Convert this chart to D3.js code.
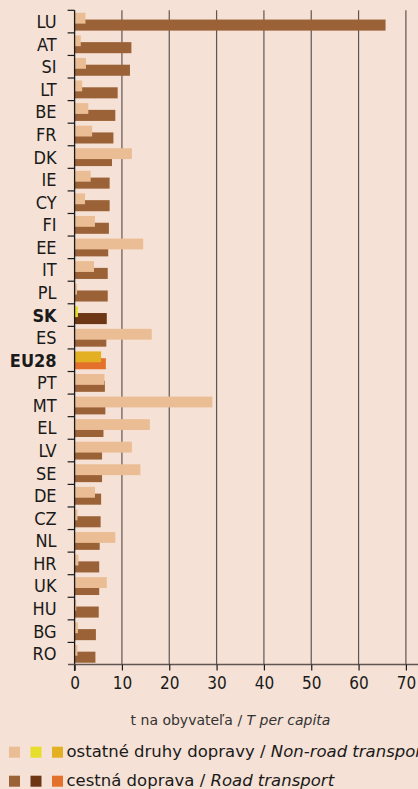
<!DOCTYPE html>
<html><head><meta charset="utf-8">
<script src="https://cdn.jsdelivr.net/npm/d3@7"></script>
<style>
html,body{margin:0;padding:0;background:#f5e1d5;}
svg{display:block;}
</style></head>
<body>
<svg id="c" width="418" height="789"></svg>
<script>
const categories = ["LU","AT","SI","LT","BE","FR","DK","IE","CY","FI","EE","IT","PL","SK","ES","EU28","PT","MT","EL","LV","SE","DE","CZ","NL","HR","UK","HU","BG","RO"];
const nonRoad = [2.3,1.3,2.4,1.6,2.9,3.7,12.1,3.4,2.2,4.3,14.5,4.1,0.5,0.7,16.3,5.6,6.3,29.1,15.9,12.1,13.9,4.3,0.6,8.6,0.8,6.8,0.35,0.7,0.6];
const road = [65.7,12.0,11.7,9.1,8.6,8.2,7.9,7.4,7.4,7.25,7.1,7.0,7.0,6.8,6.7,6.6,6.4,6.5,6.1,5.8,5.8,5.6,5.5,5.3,5.2,5.2,5.1,4.5,4.4];
const xTicks = [0,10,20,30,40,50,60,70];
const boldCats = ["SK","EU28"];
const axisTitle = ["t na obyvateľa / ", "T per capita"];
const legendRows = [
  {label:"ostatné druhy dopravy / ", italic:"Non-road transport", colors:["#ebbd94","#e7de2c","#e3b023"]},
  {label:"cestná doprava / ", italic:"Road transport", colors:["#9b6237","#6d3716","#e3712b"]}
];
const colNon = {def:"#ebbd94", SK:"#e7de2c", EU28:"#e3b023"};
const colRoad = {def:"#9b6237", SK:"#6d3716", EU28:"#e3712b"};

const COND = "'DejaVu Sans Condensed','DejaVu Sans',sans-serif";
const WIDE = "'DejaVu Sans',sans-serif";

const svg = d3.select("#c");
const x = d3.scaleLinear().domain([0,70]).range([74.6,405.9]);
const y = d3.scaleBand().domain(categories).range([10.3,665]).padding(0);
const bw = y.bandwidth();

// gridlines
svg.append("g").selectAll("line").data(xTicks.filter(d=>d>0)).join("line")
  .attr("x1",d=>x(d)).attr("x2",d=>x(d)).attr("y1",10.3).attr("y2",665)
  .attr("stroke","#5f5654").attr("stroke-width",1.2);

// road bars (below)
svg.append("g").selectAll("rect").data(categories).join("rect")
  .attr("x",x(0)).attr("y",d=>y(d)+bw*0.41).attr("height",bw*0.49)
  .attr("width",(d,i)=>x(road[i])-x(0))
  .attr("fill",d=>colRoad[d]||colRoad.def);
// non-road bars (on top)
svg.append("g").selectAll("rect").data(categories).join("rect")
  .attr("x",x(0)).attr("y",d=>y(d)+bw*0.11).attr("height",bw*0.48)
  .attr("width",(d,i)=>x(nonRoad[i])-x(0))
  .attr("fill",d=>colNon[d]||colNon.def);

// y axis
const ya = svg.append("g").attr("transform",`translate(${x(0)},0)`);
ya.append("line").attr("x1",0).attr("x2",0).attr("y1",10.3).attr("y2",671).attr("stroke","#1a1a1a").attr("stroke-width",1.3);
ya.selectAll("line.t").data(categories).join("line").attr("class","t")
  .attr("x1",-7).attr("x2",0).attr("y1",d=>y(d)).attr("y2",d=>y(d))
  .attr("stroke","#1a1a1a").attr("stroke-width",1.2);
ya.selectAll("text").data(categories).join("text")
  .attr("x",-18).attr("y",d=>y(d)+bw/2).attr("dy","0.36em")
  .attr("text-anchor","end")
  .style("font-family",COND).style("font-size","18px").style("fill","#1a1a1a")
  .style("font-weight",d=>boldCats.includes(d)?"bold":"normal")
  .text(d=>d);

// x axis
const xa = svg.append("g").attr("transform","translate(0,664.5)")
  .call(d3.axisBottom(x).tickValues(xTicks).tickSize(6).tickPadding(6).tickFormat(d3.format("d")));
xa.select(".domain").attr("d",`M68,0H418`).attr("stroke","#5f5654").attr("stroke-width",1.3);
xa.selectAll(".tick line").attr("stroke","#1a1a1a").attr("stroke-width",1.2);
xa.selectAll(".tick text").style("font-size","17px").style("fill","#1a1a1a").style("font-family",COND);

// axis title
const at = svg.append("text").attr("x",230.5).attr("y",725).attr("text-anchor","middle")
  .style("font-size","14px").style("font-family",WIDE).style("fill","#333");
at.append("tspan").text(axisTitle[0]);
at.append("tspan").style("font-style","italic").text(axisTitle[1]);

// legend
const lg = svg.append("g");
legendRows.forEach((r,i)=>{
  const yy = 746.7 + i*29;
  r.colors.forEach((c,j)=>{
    lg.append("rect").attr("x",9+j*21.5).attr("y",yy).attr("width",11).attr("height",11).attr("fill",c);
  });
  const t = lg.append("text").attr("x",66.5).attr("y",yy+10.5)
    .style("font-size","16.5px").style("font-family",WIDE).style("fill","#1a1a1a");
  t.append("tspan").text(r.label);
  t.append("tspan").style("font-style","italic").text(r.italic);
});
</script>
</body></html>
